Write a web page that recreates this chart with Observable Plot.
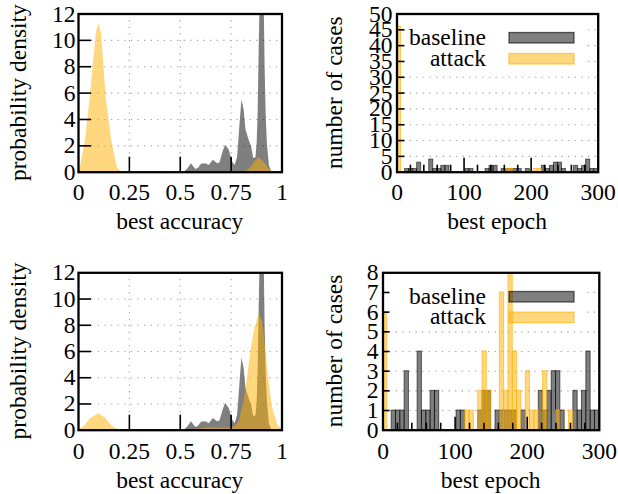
<!DOCTYPE html>
<html><head><meta charset="utf-8">
<script src="https://cdn.jsdelivr.net/npm/d3@7"></script>
<script src="https://cdn.jsdelivr.net/npm/@observablehq/plot@0.6"></script>
<style>
html,body{margin:0;padding:0;background:#fff;}
#wrap{position:relative;width:618px;height:494px;overflow:hidden;}
#wrap svg{position:absolute;}
#wrap svg text{font-family:'Liberation Serif', serif !important;}
</style></head><body><div id="wrap"></div>
<script>
// ---------- data ----------
const baselineAccuracy = [0.52, 0.537, 0.555, 0.576, 0.59, 0.604, 0.626, 0.642, 0.663, 0.683, 0.695, 0.713, 0.724, 0.741, 0.757, 0.77, 0.782, 0.795, 0.803, 0.814, 0.823, 0.839, 0.851, 0.861, 0.872, 0.878, 0.883, 0.888, 0.893, 0.903, 0.912, 0.917, 0.922, 0.928, 0.938, 0.95];
const baselineDensity  = [0, 0.25, 0.65, 0.2, 0.3, 0.6, 0.65, 0.5, 0.9, 0.65, 0.7, 1.66, 2.04, 1.66, 0.78, 0.5, 1.16, 3.9, 5.5, 4.7, 3.2, 2.4, 1.9, 1.03, 1.1, 2.2, 4.7, 9.5, 13.5, 15, 13.5, 8, 4.5, 2.2, 0.5, 0];

const attackTopAccuracy = [0, 0.01, 0.034, 0.056, 0.072, 0.087, 0.1, 0.113, 0.125, 0.138, 0.163, 0.19, 0.21, 0.82, 0.845, 0.865, 0.888, 0.91, 0.93, 0.955];
const attackTopDensity  = [0, 0.4, 2.4, 5.4, 8.0, 10.5, 11.3, 10.5, 8.0, 5.4, 2.4, 0.4, 0, 0, 0.3, 0.75, 1.1, 0.8, 0.35, 0];

const attackBottomAccuracy = [0, 0.03, 0.06, 0.1, 0.135, 0.165, 0.2, 0.56, 0.6, 0.65, 0.7, 0.75, 0.775, 0.79, 0.814, 0.831, 0.847, 0.867, 0.888, 0.905, 0.921, 0.938, 0.954, 0.979, 1.0];
const attackBottomDensity  = [0, 0.3, 0.9, 1.25, 0.9, 0.3, 0, 0, 0.12, 0.18, 0.15, 0.15, 0.35, 0.66, 2.2, 4.0, 6.0, 7.8, 8.8, 8.3, 6.0, 3.5, 1.7, 0.4, 0.05];

const binWidth = 6;
const epochBinStart = [
  0, 6, 12, 18, 24, 30, 36, 42, 48, 54,
  60, 66, 72, 78, 84, 90, 96, 102, 108, 114,
  120, 126, 132, 138, 144, 150, 156, 162, 168, 174,
  180, 186, 192, 198, 204, 210, 216, 222, 228, 234,
  240, 246, 252, 258, 264, 270, 276, 282, 288, 294];
const baselineCounts = [
  0, 0, 1, 1, 1, 3, 0, 0, 4, 1,
  1, 2, 2, 0, 0, 0, 0, 1, 1, 0,
  0, 0, 1, 2, 2, 0, 1, 1, 1, 1,
  1, 0, 1, 0, 0, 0, 2, 1, 2, 3,
  3, 1, 0, 0, 2, 1, 2, 4, 1, 1];
const attackCountsTop = [
  46, 0, 0, 0, 0, 0, 0, 0, 0, 0,
  0, 0, 0, 0, 0, 0, 0, 0, 0, 0,
  0, 0, 0, 0, 0, 0, 0, 1, 1, 0,
  0, 0, 0, 0, 1, 1, 0, 0, 0, 0,
  0, 0, 0, 0, 0, 0, 0, 0, 0, 0];
const attackCountsBottom = [
  6, 0, 0, 0, 0, 0, 0, 0, 0, 0,
  0, 0, 0, 0, 0, 0, 0, 0, 0, 1,
  1, 0, 2, 4, 2, 0, 0, 7, 2, 8,
  4, 2, 0, 3, 1, 1, 0, 3, 0, 0,
  1, 0, 0, 1, 0, 0, 0, 0, 0, 0];

const accuracyTicks = [0, 0.25, 0.5, 0.75, 1];
const densityTicks = [0, 2, 4, 6, 8, 10, 12];
const epochTicks = [0, 100, 200, 300];
const epochMinorTicks = [20, 40, 60, 80, 120, 140, 160, 180, 220, 240, 260, 280];
const casesTicksTop = [0, 5, 10, 15, 20, 25, 30, 35, 40, 45, 50];
const casesTicksBottom = [0, 1, 2, 3, 4, 5, 6, 7, 8];
const seriesNames = ["baseline", "attack"];

// ---------- styling ----------
const FONT = "'Liberation Serif', serif";
const FS = "23.5px";
const GRAY = "black", GRAY_OP = 0.5;
const YEL = "#FFB000", YEL_OP = 0.5;
const gridStyle = {stroke: "#a6a6a6", strokeWidth: 1.1, strokeDasharray: "1.3,5.3"};

const densityRows = (xs, ys) => xs.map((a, i) => ({a, d: ys[i]}));
const binRows = counts => epochBinStart.map((s, i) => ({s, e: s + binWidth, n: counts[i]})).filter(r => r.n > 0);
const inner = t => t.slice(1, -1);
const fmt = d => String(d);

const wrap = document.getElementById("wrap");

function panel(cfg) {
  const {left, top, mL, mR, mT, mB, xDomain, yDomain, xTicks, yTicks, xGrid, marks,
         yTickLen, xTickLen, xMinor, xMinorLen, xPad, yPad, xLabel, yLabel, yLabelX, legend} = cfg;
  const W = 309, H = 247;
  const m = [
    Plot.ruleY(inner(yTicks), gridStyle),
    xGrid ? Plot.ruleX(inner(xTicks), gridStyle) : null,
    ...marks,
    Plot.axisY(inner(yTicks), {anchor: "left", tickSize: yTickLen, dx: yTickLen, fill: "none", label: null, strokeWidth: 1.6}),
    Plot.axisX(inner(xTicks), {anchor: "bottom", tickSize: xTickLen, dy: -xTickLen, fill: "none", label: null, strokeWidth: 1.6}),
    xMinor ? Plot.axisX(xMinor, {anchor: "bottom", tickSize: xMinorLen, dy: -xMinorLen, fill: "none", label: null, strokeWidth: 1.6}) : null,
    Plot.axisY(yTicks, {anchor: "left", tickSize: 0, tickPadding: yPad, tickFormat: fmt, label: null}),
    Plot.axisX(xTicks, {anchor: "bottom", tickSize: 0, tickPadding: xPad, tickFormat: fmt, label: null}),
    Plot.frame({stroke: "black", strokeWidth: 2.3})
  ].filter(Boolean);
  const svg = Plot.plot({
    width: W, height: H,
    marginLeft: mL, marginRight: mR, marginTop: mT, marginBottom: mB,
    x: {domain: xDomain, label: null},
    y: {domain: yDomain, label: null},
    style: {fontFamily: FONT, fontSize: FS, background: "transparent", overflow: "visible", color: "black"},
    marks: m
  });
  svg.style.left = left + "px";
  svg.style.top = top + "px";
  wrap.appendChild(svg);
  const s = d3.select(svg);
  const fx = (mL + W - mR) / 2;
  s.append("text").attr("x", fx).attr("y", H - mB + xLabel.dy)
    .attr("text-anchor", "middle").style("font-size", FS).attr("fill", "black")
    .text(xLabel.text);
  s.append("text").attr("transform", `translate(${yLabelX},${(mT + H - mB) / 2}) rotate(-90)`)
    .attr("text-anchor", "middle").style("font-size", FS).attr("fill", "black")
    .text(yLabel);
  if (legend) {
    s.insert("rect", 'g[aria-label="rect"]')
      .attr("x", mL + 1.5).attr("y", legend.bgY).attr("width", legend.bgW).attr("height", legend.bgH)
      .attr("fill", "white");
    const rows = [
      {name: seriesNames[0], fill: GRAY, op: GRAY_OP, stroke: "black"},
      {name: seriesNames[1], fill: YEL, op: YEL_OP, stroke: YEL}
    ];
    rows.forEach((r, i) => {
      const base = legend.y0 + i * legend.step;
      s.append("text").attr("x", legend.textX).attr("y", base)
        .attr("text-anchor", "end").style("font-size", FS).attr("fill", "black")
        .text(r.name);
      s.append("rect").attr("x", legend.swX).attr("y", base - legend.swOff)
        .attr("width", legend.swW).attr("height", 10.5)
        .attr("fill", r.fill).attr("fill-opacity", r.op)
        .attr("stroke", r.stroke).attr("stroke-opacity", 0.6).attr("stroke-width", 1.3);
    });
  }
  return svg;
}

function densityMarks(attackX, attackY) {
  return [
    Plot.areaY(densityRows(baselineAccuracy, baselineDensity), {x: "a", y: "d", fill: GRAY, fillOpacity: GRAY_OP, clip: true}),
    Plot.areaY(densityRows(attackX, attackY), {x: "a", y: "d", fill: YEL, fillOpacity: YEL_OP, clip: true})
  ];
}
function barMarks(attackCounts) {
  return [
    Plot.rectY(binRows(baselineCounts), {x1: "s", x2: "e", y: "n", fill: GRAY, fillOpacity: GRAY_OP, stroke: "black", strokeOpacity: 0.55, strokeWidth: 1, clip: true}),
    Plot.rectY(binRows(attackCounts), {x1: "s", x2: "e", y: "n", fill: YEL, fillOpacity: YEL_OP, stroke: YEL, strokeOpacity: 0.6, strokeWidth: 1, clip: true})
  ];
}

// top-left
panel({left: 0, top: 0, mL: 78, mR: 27.5, mT: 13.5, mB: 75.3,
  xDomain: [0, 1], yDomain: [0, 12], xTicks: accuracyTicks, yTicks: densityTicks, xGrid: true,
  marks: densityMarks(attackTopAccuracy, attackTopDensity),
  yTickLen: 13, xTickLen: 15, xPad: 11.5, yPad: 3,
  xLabel: {text: "best accuracy", dy: 57}, yLabel: "probability density", yLabelX: 26});
// top-right
panel({left: 309, top: 0, mL: 87.5, mR: 20.3, mT: 13.5, mB: 75.3,
  xDomain: [0, 300], yDomain: [0, 50], xTicks: epochTicks, yTicks: casesTicksTop, xGrid: false,
  marks: barMarks(attackCountsTop),
  yTickLen: 8, xTickLen: 14, xMinor: epochMinorTicks, xMinorLen: 7, xPad: 11.5, yPad: 4.5,
  xLabel: {text: "best epoch", dy: 57}, yLabel: "number of cases", yLabelX: 33,
  legend: {bgY: 21, bgW: 185, bgH: 49, y0: 44.8, step: 21, textX: 177, swX: 200, swW: 65, swOff: 12.3}});
// bottom-left
panel({left: 0, top: 247, mL: 78, mR: 27.5, mT: 25.3, mB: 64.3,
  xDomain: [0, 1], yDomain: [0, 12], xTicks: accuracyTicks, yTicks: densityTicks, xGrid: true,
  marks: densityMarks(attackBottomAccuracy, attackBottomDensity),
  yTickLen: 13, xTickLen: 15, xPad: 12.5, yPad: 3,
  xLabel: {text: "best accuracy", dy: 58.5}, yLabel: "probability density", yLabelX: 26});
// bottom-right
panel({left: 309, top: 247, mL: 73.5, mR: 19.2, mT: 25.3, mB: 64.3,
  xDomain: [0, 300], yDomain: [0, 8], xTicks: epochTicks, yTicks: casesTicksBottom, xGrid: false,
  marks: barMarks(attackCountsBottom),
  yTickLen: 7, xTickLen: 13, xMinor: epochMinorTicks, xMinorLen: 7, xPad: 12.5, yPad: 4.5,
  xLabel: {text: "best epoch", dy: 58.5}, yLabel: "number of cases", yLabelX: 33,
  legend: {bgY: 36, bgW: 198, bgH: 45, y0: 56.8, step: 20.6, textX: 177, swX: 200, swW: 65, swOff: 12.3}});
</script></body></html>
